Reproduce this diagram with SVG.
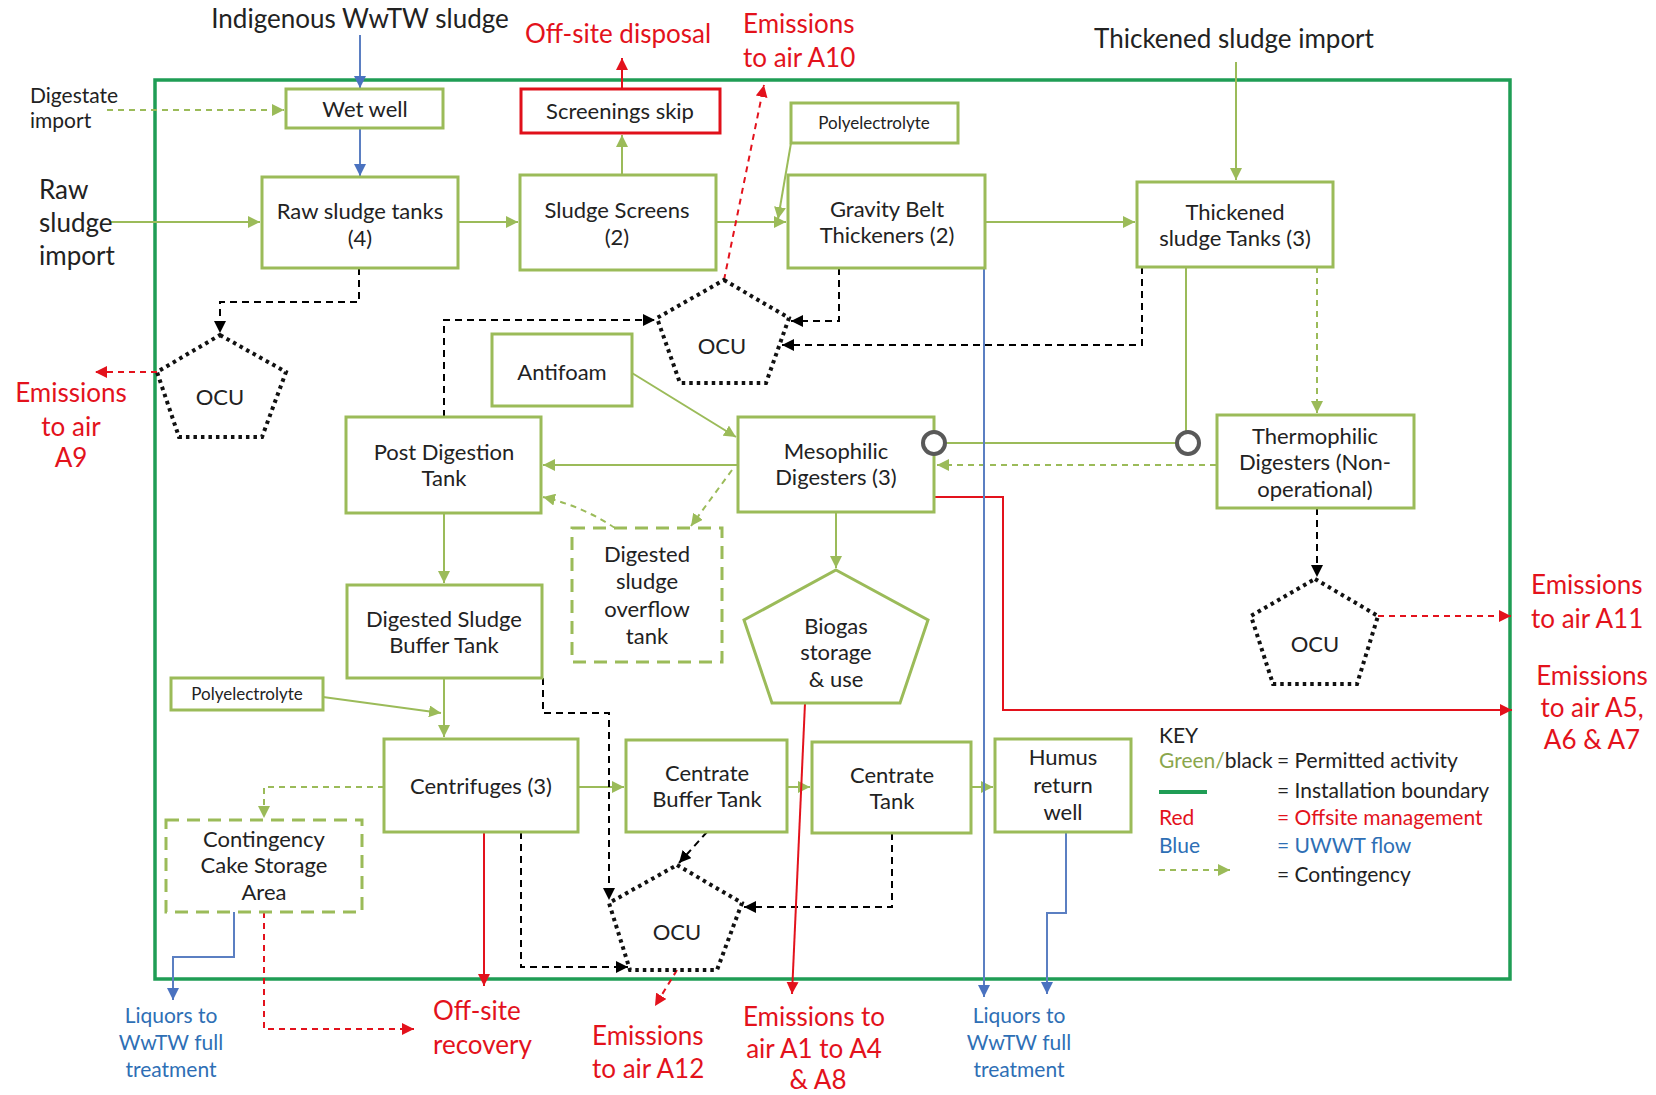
<svg xmlns="http://www.w3.org/2000/svg" width="1656" height="1095" viewBox="0 0 1656 1095">
<defs>
<style>
.box{fill:#fff;stroke:#9bbb59;stroke-width:3}
.dbox{fill:#fff;stroke:#9bbb59;stroke-width:3;stroke-dasharray:13 8}
.ocu{fill:#fff;stroke:#111;stroke-width:4;stroke-dasharray:3.5 4}
.t{font-family:Lato,"Liberation Sans",sans-serif;font-size:22px;fill:#222;text-anchor:middle}
.s{font-size:17px}
.big{font-family:Lato,"Liberation Sans",sans-serif;font-size:26px;fill:#222}
.red{font-family:Lato,"Liberation Sans",sans-serif;font-size:26px;fill:#e3121c}
.blu{font-family:Lato,"Liberation Sans",sans-serif;font-size:21px;fill:#2e6fb5;text-anchor:middle}
.key{font-family:Lato,"Liberation Sans",sans-serif;font-size:21px;fill:#222}
.kr{fill:#e3121c}
.kb{fill:#2e6fb5}
.kg{fill:#8aa64c}
.g{fill:none;stroke:#9bbb59;stroke-width:2}
.gd{fill:none;stroke:#9bbb59;stroke-width:2;stroke-dasharray:6 5}
.k{fill:none;stroke:#000;stroke-width:2;stroke-dasharray:7 5}
.r{fill:none;stroke:#e3121c;stroke-width:2}
.rd{fill:none;stroke:#e3121c;stroke-width:2;stroke-dasharray:6 5}
.b{fill:none;stroke:#5b7fc2;stroke-width:2}
</style>
<marker id="ag" viewBox="0 0 10 10" refX="10" refY="5" markerWidth="12" markerHeight="12" markerUnits="userSpaceOnUse" orient="auto"><path d="M0,0 L10,5 L0,10 z" fill="#9bbb59"/></marker>
<marker id="ak" viewBox="0 0 10 10" refX="10" refY="5" markerWidth="12" markerHeight="12" markerUnits="userSpaceOnUse" orient="auto"><path d="M0,0 L10,5 L0,10 z" fill="#000"/></marker>
<marker id="ar" viewBox="0 0 10 10" refX="10" refY="5" markerWidth="12" markerHeight="12" markerUnits="userSpaceOnUse" orient="auto"><path d="M0,0 L10,5 L0,10 z" fill="#e3121c"/></marker>
<marker id="ab" viewBox="0 0 10 10" refX="10" refY="5" markerWidth="12" markerHeight="12" markerUnits="userSpaceOnUse" orient="auto"><path d="M0,0 L10,5 L0,10 z" fill="#4a72c0"/></marker>
</defs>
<rect width="1656" height="1095" fill="#fff"/>

<rect id="boundary" x="155" y="80" width="1355" height="899" fill="none" stroke="#1f9d55" stroke-width="3.5"/>

<g id="connectors">
<!-- green solid -->
<path class="g" d="M111,222 H260" marker-end="url(#ag)"/>
<path class="g" d="M458,222 H518" marker-end="url(#ag)"/>
<path class="g" d="M622,175 V135" marker-end="url(#ag)"/>
<path class="g" d="M716,222 H786" marker-end="url(#ag)"/>
<path class="g" d="M791,143 L778,219" marker-end="url(#ag)"/>
<path class="g" d="M985,222 H1135" marker-end="url(#ag)"/>
<path class="g" d="M1236,62 V180" marker-end="url(#ag)"/>
<path class="g" d="M1186,267 V432"/>
<path class="g" d="M945,443 H1177"/>
<path class="g" d="M632,373 L736,437" marker-end="url(#ag)"/>
<path class="g" d="M738,465 H543" marker-end="url(#ag)"/>
<path class="g" d="M836,512 V568" marker-end="url(#ag)"/>
<path class="g" d="M444,513 V583" marker-end="url(#ag)"/>
<path class="g" d="M444,678 V737" marker-end="url(#ag)"/>
<path class="g" d="M323,697 L441,713" marker-end="url(#ag)"/>
<path class="g" d="M578,787 H624" marker-end="url(#ag)"/>
<path class="g" d="M787,787 H810" marker-end="url(#ag)"/>
<path class="g" d="M971,787 H993" marker-end="url(#ag)"/>
<!-- green dashed contingency -->
<path class="gd" d="M107,110 H284" marker-end="url(#ag)"/>
<path class="gd" d="M1317,267 V413" marker-end="url(#ag)"/>
<path class="gd" d="M1216,465 H937" marker-end="url(#ag)"/>
<path class="gd" d="M732,470 L691,526" marker-end="url(#ag)"/>
<path class="gd" d="M615,528 Q582,506 543,497" marker-end="url(#ag)"/>
<path class="gd" d="M384,787 H264 V818" marker-end="url(#ag)"/>
<!-- black dashed -->
<path class="k" d="M359,268 V302 H220 V333" marker-end="url(#ak)"/>
<path class="k" d="M444,417 V320 H655" marker-end="url(#ak)"/>
<path class="k" d="M839,268 V321 H791" marker-end="url(#ak)"/>
<path class="k" d="M1142,267 V345 H782" marker-end="url(#ak)"/>
<path class="k" d="M1317,508 V577" marker-end="url(#ak)"/>
<path class="k" d="M543,678 V713 H609 V900" marker-end="url(#ak)"/>
<path class="k" d="M707,832 L679,863" marker-end="url(#ak)"/>
<path class="k" d="M892,833 V907 H744" marker-end="url(#ak)"/>
<path class="k" d="M521,832 V967 H628" marker-end="url(#ak)"/>
<!-- red -->
<path class="r" d="M622,89 V58" marker-end="url(#ar)"/>
<path class="rd" d="M724,280 L764,85" marker-end="url(#ar)"/>
<path class="rd" d="M157,372 H95" marker-end="url(#ar)"/>
<path class="rd" d="M1378,616 H1511" marker-end="url(#ar)"/>
<path class="r" d="M934,497 H1003 V710 H1512" marker-end="url(#ar)"/>
<path class="r" d="M805,703 L792,994" marker-end="url(#ar)"/>
<path class="r" d="M484,832 V986" marker-end="url(#ar)"/>
<path class="rd" d="M264,912 V1029 H414" marker-end="url(#ar)"/>
<path class="rd" d="M677,970 L655,1006" marker-end="url(#ar)"/>
<!-- blue -->
<path class="b" d="M360,35 V88" marker-end="url(#ab)"/>
<path class="b" d="M360,128 V176" marker-end="url(#ab)"/>
<path class="b" d="M984,268 V997" marker-end="url(#ab)"/>
<path class="b" d="M1066,832 V913 H1047 V994" marker-end="url(#ab)"/>
<path class="b" d="M234,912 V957 H173 V1000" marker-end="url(#ab)"/>
</g>

<g id="wet-well"><rect class="box" x="286" y="89" width="157" height="39"/><text class="t" x="365" y="117">Wet well</text></g>
<g id="raw-sludge-tanks"><rect class="box" x="262" y="177" width="196" height="91"/><text class="t" x="360" y="219">Raw sludge tanks</text><text class="t" x="360" y="246">(4)</text></g>
<g id="sludge-screens"><rect class="box" x="520" y="175" width="196" height="95"/><text class="t" x="617" y="218">Sludge Screens</text><text class="t" x="617" y="245">(2)</text></g>
<g id="screenings-skip"><rect x="521" y="89" width="199" height="44" fill="#fff" stroke="#e0101a" stroke-width="3"/><text class="t" x="620" y="119">Screenings skip</text></g>
<g id="gbt"><rect class="box" x="788" y="175" width="197" height="93"/><text class="t" x="887" y="217">Gravity Belt</text><text class="t" x="887" y="243">Thickeners (2)</text></g>
<g id="poly-1"><rect class="box" x="791" y="103" width="167" height="40"/><text class="t s" x="874" y="129">Polyelectrolyte</text></g>
<g id="thickened-tanks"><rect class="box" x="1137" y="182" width="196" height="85"/><text class="t" x="1235" y="220">Thickened</text><text class="t" x="1235" y="246">sludge Tanks (3)</text></g>
<g id="thermophilic"><rect class="box" x="1217" y="415" width="197" height="93"/><text class="t" x="1315" y="444">Thermophilic</text><text class="t" x="1315" y="470">Digesters (Non-</text><text class="t" x="1315" y="497">operational)</text></g>
<g id="mesophilic"><rect class="box" x="738" y="417" width="196" height="95"/><text class="t" x="836" y="459">Mesophilic</text><text class="t" x="836" y="485">Digesters (3)</text></g>
<g id="post-digestion"><rect class="box" x="346" y="417" width="195" height="96"/><text class="t" x="444" y="460">Post Digestion</text><text class="t" x="444" y="486">Tank</text></g>
<g id="antifoam"><rect class="box" x="492" y="334" width="140" height="72"/><text class="t" x="562" y="380">Antifoam</text></g>
<g id="overflow-tank"><rect class="dbox" x="572" y="528" width="150" height="134"/><text class="t" x="647" y="562">Digested</text><text class="t" x="647" y="589">sludge</text><text class="t" x="647" y="617">overflow</text><text class="t" x="647" y="644">tank</text></g>
<g id="buffer-tank"><rect class="box" x="347" y="585" width="195" height="93"/><text class="t" x="444" y="627">Digested Sludge</text><text class="t" x="444" y="653">Buffer Tank</text></g>
<g id="poly-2"><rect class="box" x="171" y="678" width="152" height="32"/><text class="t s" x="247" y="700">Polyelectrolyte</text></g>
<g id="centrifuges"><rect class="box" x="384" y="739" width="194" height="93"/><text class="t" x="481" y="794">Centrifuges (3)</text></g>
<g id="cake-storage"><rect class="dbox" x="166" y="820" width="196" height="92"/><text class="t" x="264" y="847">Contingency</text><text class="t" x="264" y="873">Cake Storage</text><text class="t" x="264" y="900">Area</text></g>
<g id="centrate-buffer"><rect class="box" x="626" y="740" width="161" height="92"/><text class="t" x="707" y="781">Centrate</text><text class="t" x="707" y="807">Buffer Tank</text></g>
<g id="centrate-tank"><rect class="box" x="812" y="742" width="159" height="91"/><text class="t" x="892" y="783">Centrate</text><text class="t" x="892" y="809">Tank</text></g>
<g id="humus-well"><rect class="box" x="995" y="739" width="136" height="93"/><text class="t" x="1063" y="765">Humus</text><text class="t" x="1063" y="793">return</text><text class="t" x="1063" y="820">well</text></g>
<g id="biogas"><polygon points="836,570 928,620 900,703 772,703 744,620" fill="#fff" stroke="#9bbb59" stroke-width="3"/><text class="t" x="836" y="634">Biogas</text><text class="t" x="836" y="660">storage</text><text class="t" x="836" y="687">&amp; use</text></g>
<g id="ocu-a"><polygon class="ocu" points="220,335 286,372 262,437 179,437 157,372"/><text class="t" x="220" y="405">OCU</text></g>
<g id="ocu-b"><polygon class="ocu" points="724,280 789,318 766,383 680,383 657,318"/><text class="t" x="722" y="354">OCU</text></g>
<g id="ocu-c"><polygon class="ocu" points="1315,579 1378,616 1357,684 1273,684 1251,616"/><text class="t" x="1315" y="652">OCU</text></g>
<g id="ocu-d"><polygon class="ocu" points="677,865 742,903 717,970 630,970 609,903"/><text class="t" x="677" y="940">OCU</text></g>

<g id="valves">
<circle cx="934" cy="443" r="11" fill="#fff" stroke="#595959" stroke-width="4"/>
<circle cx="1188" cy="443" r="11" fill="#fff" stroke="#595959" stroke-width="4"/>
</g>

<g id="labels">
<text class="big" x="360" y="28" text-anchor="middle">Indigenous WwTW sludge</text>
<text class="key" x="30" y="103">Digestate</text>
<text class="key" x="30" y="128">import</text>
<text class="big" x="39" y="199">Raw</text>
<text class="big" x="39" y="232">sludge</text>
<text class="big" x="39" y="265">import</text>
<text class="big" x="1234" y="48" text-anchor="middle">Thickened sludge import</text>
<text class="red" x="618" y="43" text-anchor="middle">Off-site disposal</text>
<text class="red" x="743" y="33">Emissions</text>
<text class="red" x="743" y="67">to air A10</text>
<text class="red" x="71" y="402" text-anchor="middle">Emissions</text>
<text class="red" x="71" y="436" text-anchor="middle">to air</text>
<text class="red" x="71" y="467" text-anchor="middle">A9</text>
<text class="red" x="1531" y="594">Emissions</text>
<text class="red" x="1531" y="628">to air A11</text>
<text class="red" x="1592" y="685" text-anchor="middle">Emissions</text>
<text class="red" x="1592" y="717" text-anchor="middle">to air A5,</text>
<text class="red" x="1592" y="749" text-anchor="middle">A6 &amp; A7</text>
<text class="red" x="433" y="1020">Off-site</text>
<text class="red" x="433" y="1054">recovery</text>
<text class="red" x="592" y="1045">Emissions</text>
<text class="red" x="592" y="1078">to air A12</text>
<text class="red" x="814" y="1026" text-anchor="middle">Emissions to</text>
<text class="red" x="814" y="1058" text-anchor="middle">air A1 to A4</text>
<text class="red" x="818" y="1089" text-anchor="middle">&amp; A8</text>
<text class="blu" x="171" y="1023">Liquors to</text>
<text class="blu" x="171" y="1050">WwTW full</text>
<text class="blu" x="171" y="1077">treatment</text>
<text class="blu" x="1019" y="1023">Liquors to</text>
<text class="blu" x="1019" y="1050">WwTW full</text>
<text class="blu" x="1019" y="1077">treatment</text>
</g>

<g id="legend">
<text class="key" x="1159" y="743">KEY</text>
<text class="key" x="1159" y="768"><tspan class="kg">Green/</tspan>black</text>
<text class="key" x="1277" y="768">= Permitted activity</text>
<line x1="1159" y1="792" x2="1207" y2="792" stroke="#1f9d55" stroke-width="4"/>
<text class="key" x="1277" y="798">= Installation boundary</text>
<text class="key kr" x="1159" y="825">Red</text>
<text class="key kr" x="1277" y="825">= Offsite management</text>
<text class="key kb" x="1159" y="853">Blue</text>
<text class="key kb" x="1277" y="853">= UWWT flow</text>
<path class="gd" d="M1159,870 H1230" marker-end="url(#ag)"/>
<text class="key" x="1277" y="882">= Contingency</text>
</g>
</svg>
